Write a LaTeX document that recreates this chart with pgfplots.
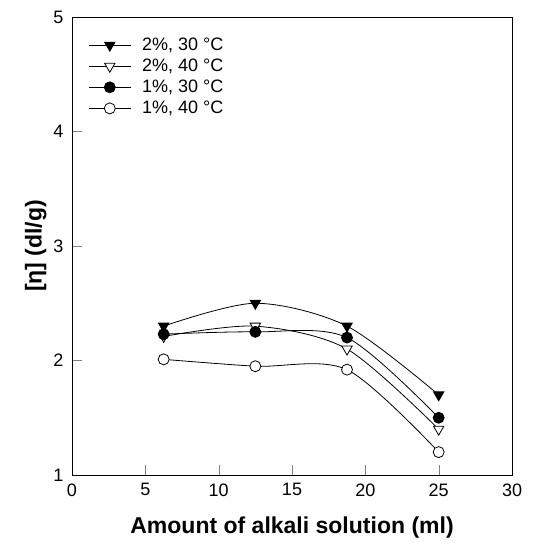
\documentclass[border=0pt]{standalone}
\usepackage{pgfplots}
\pgfplotsset{compat=1.18}
\usepackage{fontspec}
\setmainfont{Liberation Sans}

\begin{document}
\begin{tikzpicture}
\begin{axis}[
  name=ax,
  scale only axis,
  width=440pt, height=458pt,
  xmin=0, xmax=30,
  ymin=1, ymax=5,
  xtick={0,5,10,15,20,25,30},
  ytick={1,2,3,4,5},
  tick pos=left,
  tick align=inside,
  major tick length=10pt,
  /pgf/number format/assume math mode=true,
  tick label style={font=\fontsize{18}{20}\selectfont},
  xticklabel style={yshift=-5pt},
  yticklabel style={xshift=-5pt},
  xlabel={Amount of alkali solution (ml)},
  ylabel={[η] (dl/g)},
  label style={font=\fontsize{23}{26}\selectfont\bfseries},
  xlabel style={yshift=-14pt},
  ylabel style={yshift=0pt},
  axis line style={line width=0.8pt},
  every axis plot/.append style={line width=0.8pt},
  legend style={draw=none, fill=none, at={(0.03,0.963)}, anchor=north west,
    font=\fontsize{18}{20}\selectfont, row sep=3pt,
    /tikz/every odd column/.append style={column sep=9pt}},
  legend cell align=left,
  legend image code/.code={
    \draw[mark repeat=2, mark phase=2] plot coordinates {(0pt,0pt) (21pt,0pt) (42pt,0pt)};
  },
]

\addplot[black, smooth, mark=triangle*, mark size=6pt,
  mark options={rotate=180, fill=black}] coordinates {
  (6.25,2.30) (12.5,2.50) (18.75,2.30) (25,1.70)
};
\addlegendentry{2\%, 30 °C}

\addplot[black, smooth, mark=triangle*, mark size=6pt,
  mark options={rotate=180, fill=white}] coordinates {
  (6.25,2.21) (12.5,2.30) (18.75,2.10) (25,1.40)
};
\addlegendentry{2\%, 40 °C}

\addplot[black, smooth, mark=*, mark size=5.5pt,
  mark options={fill=black}] coordinates {
  (6.25,2.23) (12.5,2.25) (18.75,2.20) (25,1.50)
};
\addlegendentry{1\%, 30 °C}

\addplot[black, smooth, mark=*, mark size=5.5pt,
  mark options={fill=white}] coordinates {
  (6.25,2.01) (12.5,1.95) (18.75,1.92) (25,1.20)
};
\addlegendentry{1\%, 40 °C}

\end{axis}
\pgfresetboundingbox
\path ([xshift=-72pt,yshift=-74pt]ax.south west) rectangle ([xshift=26pt,yshift=17pt]ax.north east);
\end{tikzpicture}
\end{document}
